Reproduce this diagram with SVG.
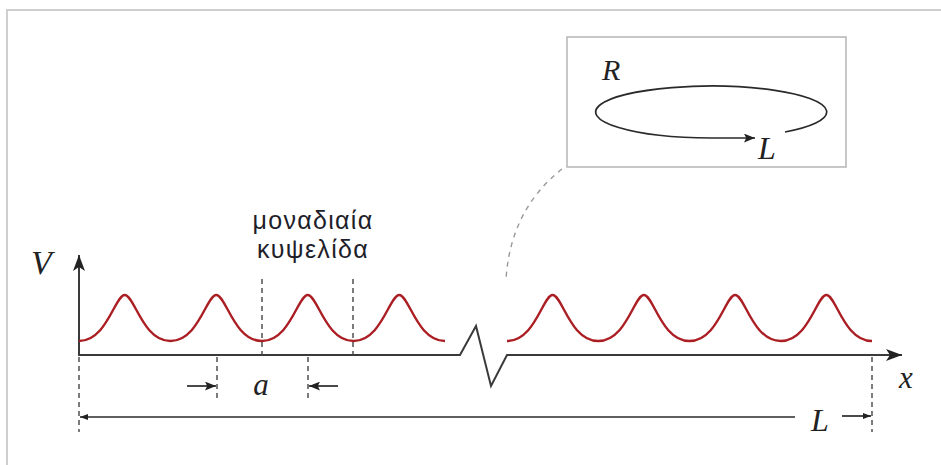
<svg xmlns="http://www.w3.org/2000/svg" width="941" height="465" viewBox="0 0 941 465">
<defs>
<style>
.frame{fill:none;stroke:#cfcfcf;stroke-width:2}
.box{fill:#fff;stroke:#b5b5b5;stroke-width:1.5}
.axis{fill:none;stroke:#3a3a3a;stroke-width:2}
.thin{fill:none;stroke:#2a2a2a;stroke-width:1.7}
.dash{fill:none;stroke:#444;stroke-width:1.4;stroke-dasharray:5,4}
.gdash{fill:none;stroke:#999;stroke-width:1.4;stroke-dasharray:5,5}
.wave{fill:none;stroke:#ab1f24;stroke-width:2.4}
.math{font-family:"Liberation Serif","DejaVu Serif",serif;font-style:italic;fill:#222}
.gr{font-family:"Liberation Sans","DejaVu Sans",sans-serif;font-size:25px;letter-spacing:1.3px;fill:#1e1e2a;text-anchor:middle}
</style>
<marker id="ah" viewBox="0 0 10 8" refX="10" refY="4" markerWidth="11" markerHeight="9" markerUnits="userSpaceOnUse" orient="auto">
<path d="M0,0 L10,4 L0,8 L2,4 Z" fill="#222"/>
</marker>
<marker id="ahBig" viewBox="0 0 16 12" refX="16" refY="6" markerWidth="16" markerHeight="12" markerUnits="userSpaceOnUse" orient="auto">
<path d="M0,0 L16,6 L0,12 L4,6 Z" fill="#222"/>
</marker>
<marker id="ahSmall" viewBox="0 0 8 6" refX="8" refY="3" markerWidth="8" markerHeight="6" markerUnits="userSpaceOnUse" orient="auto">
<path d="M0,0 L8,3 L0,6 Z" fill="#222"/>
</marker>
</defs>
<rect width="941" height="465" fill="#fff"/>
<path class="frame" d="M7,470 V10 H945"/>

<g id="inset">
<rect class="box" x="567" y="37" width="279" height="130"/>
<path class="thin" d="M785,132 A115.5,26 0 1 0 711.5,138 L755,138" marker-end="url(#ah)"/>
<text class="math" x="602" y="80" font-size="30">R</text>
<text class="math" x="758" y="159" font-size="32">L</text>
</g>

<g id="connectors">
<path class="gdash" d="M562,169 Q510,210 506,280"/>
</g>

<g id="axes">
<path class="axis" d="M79,356 V255" marker-end="url(#ahBig)"/>
<path class="axis" d="M79,355 H460 L476,326 L491,386 L507,355 H902" marker-end="url(#ahBig)"/>
<text class="math" x="31" y="274" font-size="34">V</text>
<text class="math" x="899" y="388" font-size="31">x</text>
</g>

<g id="potential">
<path class="wave" d="M79,341 c28,0 36,-46 45.75,-46 s17.75,46 45.75,46 s36,-46 45.75,-46 s17.75,46 45.75,46 s36,-46 45.75,-46 s17.75,46 45.75,46 s36,-46 45.75,-46 s17.75,46 45.75,46"/>
<path class="wave" d="M507,341 c28,0 36,-46 45.625,-46 s17.625,46 45.625,46 s36,-46 45.625,-46 s17.625,46 45.625,46 s36,-46 45.625,-46 s17.625,46 45.625,46 s36,-46 45.625,-46 s17.625,46 45.625,46"/>
</g>

<g id="unit-cell">
<path class="dash" d="M262,279 V355 M353,279 V355"/>
<text class="gr" x="313" y="229">μοναδιαία</text>
<text class="gr" x="313" y="258">κυψελίδα</text>
</g>

<g id="dimension-a">
<path class="dash" d="M217,357 V401 M308,357 V401"/>
<path class="thin" d="M187,386 H216" marker-end="url(#ah)"/>
<path class="thin" d="M338,386 H309" marker-end="url(#ah)"/>
<text class="math" x="261" y="395" font-size="31" text-anchor="middle">a</text>
</g>

<g id="dimension-L">
<path class="dash" d="M79,357 V432 M872,357 V432"/>
<path class="thin" d="M795,417 H80" marker-end="url(#ahSmall)"/>
<path class="thin" d="M842,416 H871" marker-end="url(#ahSmall)"/>
<text class="math" x="820" y="431" font-size="32" text-anchor="middle">L</text>
</g>
</svg>
